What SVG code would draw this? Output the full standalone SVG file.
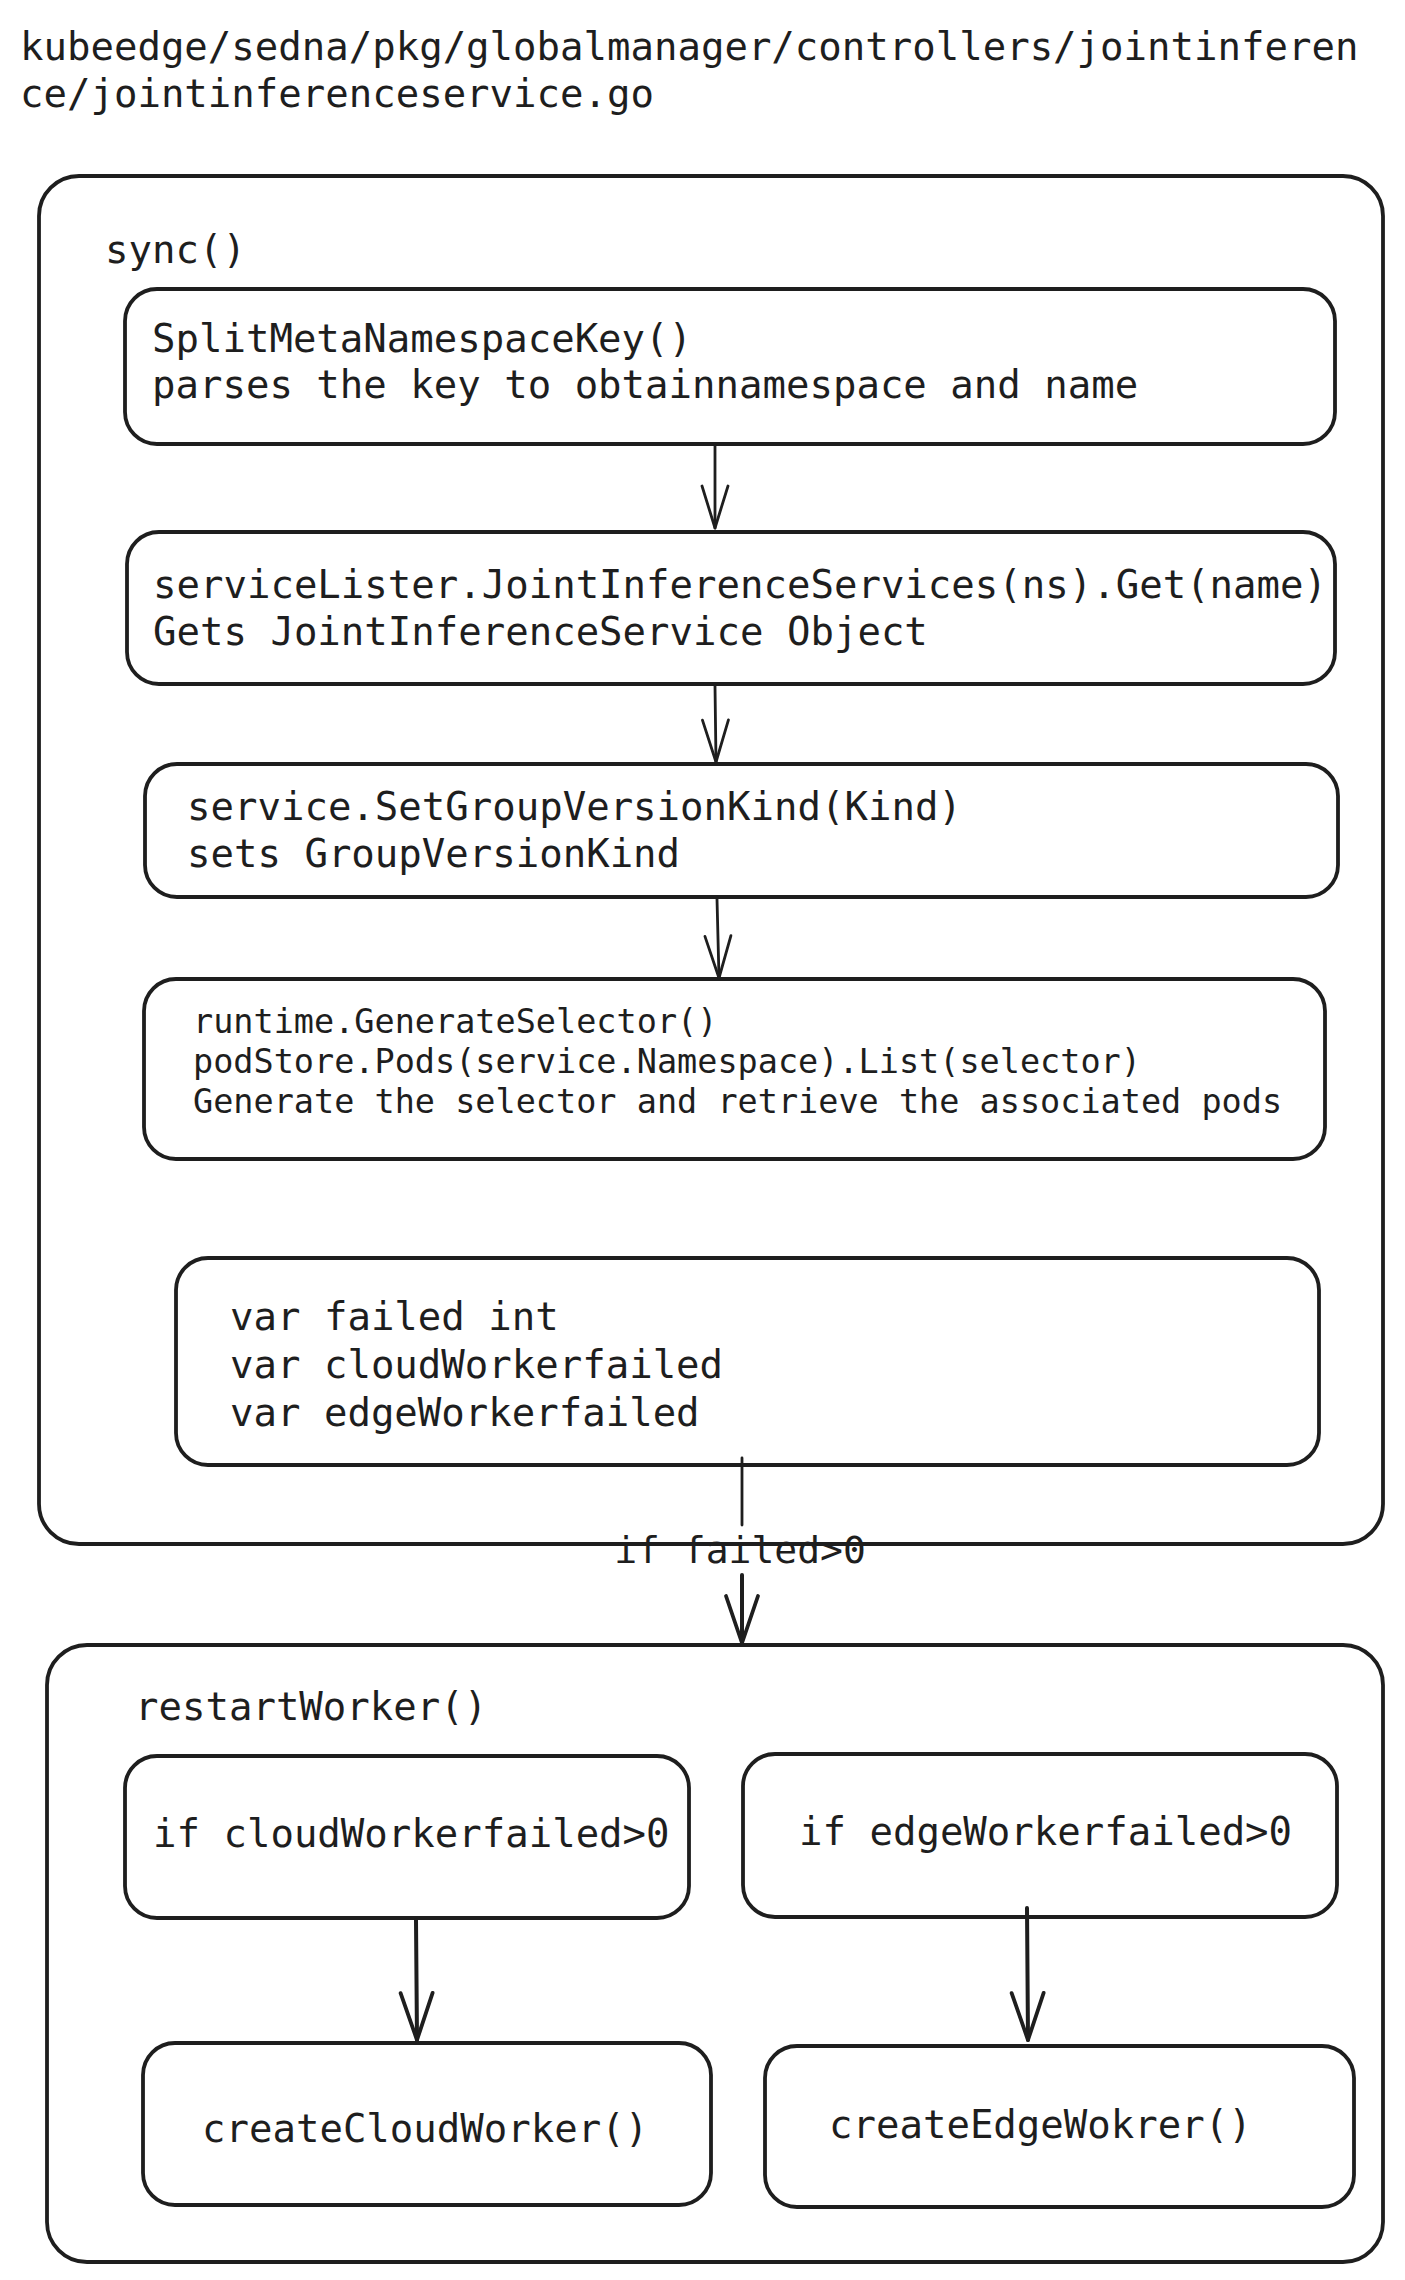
<svg xmlns="http://www.w3.org/2000/svg" width="1405" height="2280" viewBox="0 0 1405 2280">
<defs>
<style>
.box{fill:#ffffff;stroke:#1e1e1e;stroke-width:3.8;stroke-linejoin:round}
.frame{fill:#ffffff;stroke:#1e1e1e;stroke-width:3.8}
.t{font-family:"DejaVu Sans Mono","Liberation Mono",monospace;font-size:39px;fill:#1e1e1e}
.ts{font-family:"DejaVu Sans Mono","Liberation Mono",monospace;font-size:33.5px;fill:#1e1e1e}
.c{fill:none;stroke:#1e1e1e;stroke-linecap:round}
.thin{stroke-width:2.8}
.thick{stroke-width:4}
</style>
<marker id="ah" markerUnits="userSpaceOnUse" orient="auto" refX="0" refY="0" markerWidth="60" markerHeight="60" viewBox="-50 -30 60 60" overflow="visible">
<path d="M -42 -13 L 0 0 L -42 13" fill="none" stroke="#1e1e1e" stroke-width="2.8" stroke-linecap="round" stroke-linejoin="round"/>
</marker>
<marker id="ahb" markerUnits="userSpaceOnUse" orient="auto" refX="0" refY="0" markerWidth="60" markerHeight="60" viewBox="-50 -30 60 60" overflow="visible">
<path d="M -47 -16 L 0 0 L -47 16" fill="none" stroke="#1e1e1e" stroke-width="3.8" stroke-linecap="round" stroke-linejoin="round"/>
</marker>
</defs>
<rect width="1405" height="2280" fill="#ffffff"/>

<g id="title">
<text class="t" x="20" y="60">kubeedge/sedna/pkg/globalmanager/controllers/jointinferen</text>
<text class="t" x="20" y="107">ce/jointinferenceservice.go</text>
</g>

<g id="sync">
<rect class="frame" x="39" y="176" width="1344" height="1368" rx="40"/>
<text class="t" x="105" y="263">sync()</text>
</g>

<g id="restartWorker">
<rect class="frame" x="47" y="1645" width="1336" height="617" rx="40"/>
<text class="t" x="135" y="1720">restartWorker()</text>
</g>

<g id="splitKey">
<rect class="box" x="125" y="289" width="1210" height="155" rx="32"/>
<text class="t" x="152" y="352">SplitMetaNamespaceKey()</text>
<text class="t" x="152" y="398">parses the key to obtainnamespace and name</text>
</g>

<g id="getService">
<rect class="box" x="127" y="532" width="1208" height="152" rx="32"/>
<text class="t" x="153" y="598">serviceLister.JointInferenceServices(ns).Get(name)</text>
<text class="t" x="153" y="645">Gets JointInferenceService Object</text>
</g>

<g id="setGVK">
<rect class="box" x="145" y="764" width="1193" height="133" rx="32"/>
<text class="t" x="187" y="820">service.SetGroupVersionKind(Kind)</text>
<text class="t" x="187" y="867">sets GroupVersionKind</text>
</g>

<g id="selectorPods">
<rect class="box" x="144" y="979" width="1181" height="180" rx="32"/>
<text class="ts" x="193" y="1033">runtime.GenerateSelector()</text>
<text class="ts" x="193" y="1073">podStore.Pods(service.Namespace).List(selector)</text>
<text class="ts" x="193" y="1113">Generate the selector and retrieve the associated pods</text>
</g>

<g id="vars">
<rect class="box" x="176" y="1258" width="1143" height="207" rx="32"/>
<text class="t" x="230" y="1330">var failed int</text>
<text class="t" x="230" y="1378">var cloudWorkerfailed</text>
<text class="t" x="230" y="1426">var edgeWorkerfailed</text>
</g>

<g id="cloudCond">
<rect class="box" x="125" y="1756" width="564" height="162" rx="32"/>
<text class="t" x="153" y="1847">if cloudWorkerfailed&gt;0</text>
</g>

<g id="edgeCond">
<rect class="box" x="743" y="1754" width="594" height="163" rx="32"/>
<text class="t" x="799" y="1845">if edgeWorkerfailed&gt;0</text>
</g>

<g id="createCloud">
<rect class="box" x="143" y="2043" width="568" height="162" rx="32"/>
<text class="t" x="202" y="2142">createCloudWorker()</text>
</g>

<g id="createEdge">
<rect class="box" x="765" y="2046" width="589" height="161" rx="32"/>
<text class="t" x="829" y="2138">createEdgeWokrer()</text>
</g>

<g id="connectors">
<path class="c thin" d="M 715 446 L 715 528" marker-end="url(#ah)"/>
<path class="c thin" d="M 715 686 L 716 762" marker-end="url(#ah)"/>
<path class="c thin" d="M 717 899 L 719 978" marker-end="url(#ah)"/>
<path class="c thin" d="M 742 1458 L 742 1525"/>
<path class="c thick" d="M 742 1575 L 742 1643" marker-end="url(#ahb)"/>
<text class="t" x="740" y="1563" text-anchor="middle" style="font-size:38px">if failed&gt;0</text>
<path class="c thick" d="M 416 1920 L 417 2040" marker-end="url(#ahb)"/>
<path class="c thick" d="M 1027 1908 L 1028 2040" marker-end="url(#ahb)"/>
</g>
</svg>
